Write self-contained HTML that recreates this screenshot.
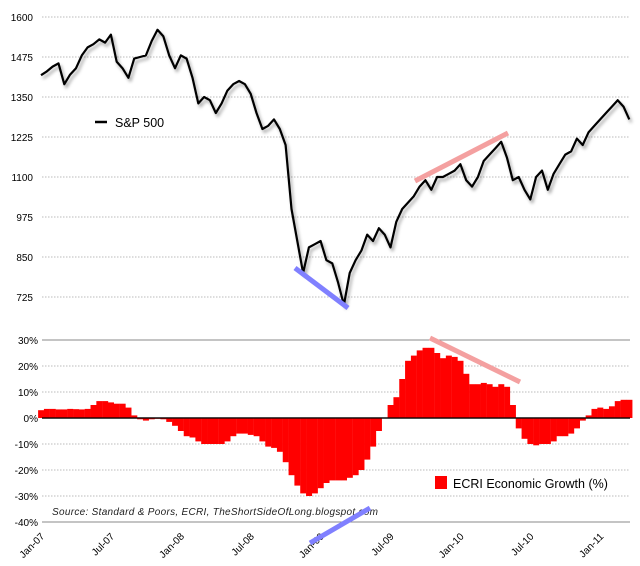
<!DOCTYPE html>
<html><head><meta charset="utf-8"><style>
body{margin:0;background:#fff;}
svg{display:block;font-family:"Liberation Sans",sans-serif;}
</style></head><body>
<svg id="c" width="640" height="566">
<defs><filter id="sh" x="-5%" y="-5%" width="110%" height="120%"><feDropShadow dx="2" dy="3" stdDeviation="1.5" flood-color="#000" flood-opacity="0.35"/></filter></defs>
<g id="topG"></g>
<g id="botG"></g>
<g id="axG"></g>
<g><line x1="95" y1="122" x2="107" y2="122" stroke="#000" stroke-width="2.5"/><text x="115" y="127" font-size="12.5">S&amp;P 500</text></g>
<g><rect x="435" y="476" width="12" height="13" fill="#f00"/><text x="453" y="488" font-size="12.5">ECRI Economic Growth (%)</text></g>
<text x="52" y="515" font-size="10" font-style="italic" fill="#222" letter-spacing="0.3">Source: Standard &amp; Poors, ECRI, TheShortSideOfLong.blogspot.com</text>
</svg>
<script>
const spTicks=[1600,1475,1350,1225,1100,975,850,725];
const ecTicks=[30,20,10,0,-10,-20,-30,-40];
const xLabels=["Jan-07","Jul-07","Jan-08","Jul-08","Jan-09","Jul-09","Jan-10","Jul-10","Jan-11"];
const spValues=[1418,1430,1445,1455,1390,1420,1440,1480,1505,1515,1530,1520,1545,1460,1440,1410,1470,1475,1480,1525,1560,1540,1480,1440,1480,1470,
1410,1330,1350,1340,1300,1330,1370,1390,1400,1390,1360,1300,1250,1260,1280,1250,1200,1000,900,800,880,890,
900,840,830,770,700,800,840,870,920,900,940,920,880,960,1000,1020,1040,1070,1090,1060,1100,1100,1110,1120,
1140,1090,1070,1100,1150,1170,1190,1210,1160,1090,1100,1060,1030,1100,1120,1060,1110,1140,1170,1180,1220,1200,1240,1260,
1280,1300,1320,1340,1320,1280];
const ecriValues=[3,3.5,3.5,3.3,3.3,3.5,3.4,3.3,3.5,5,6.5,6.5,6,5.5,5.5,4,1,-0.5,-1,-0.5,-0.3,-0.5,-1.5,-3,
-5,-7,-7.5,-9,-10,-10,-10,-10,-9,-7,-6,-6,-6.5,-7,-9,-11,-11.5,-13,-17,-22,-26,-29,-30,-29,
-27,-25,-24,-24,-24,-23,-22,-20,-16,-11,-5,0,5,8,15,22,24,26,27,27,25,23,24,23.5,
22,17,13,13,13.5,13,12,13,12,5,-4,-8,-10,-10.5,-10,-10,-9,-7,-7,-6,-4,-1,1,3.5,
4,3.5,4.5,6.5,7,7];
const NS="http://www.w3.org/2000/svg";
const X0=42,X1=630;
function xm(m){return 41+m*11.65;}
function xi(i){return xm(i/2);}
function ySp(v){return 17+(1600-v)/125*40;}
function yEc(v){return 418-v*2.6;}
function mk(p,t,a){const e=document.createElementNS(NS,t);for(const k in a)e.setAttribute(k,a[k]);p.appendChild(e);return e;}
const topG=document.getElementById('topG'),botG=document.getElementById('botG'),axG=document.getElementById('axG');
spTicks.forEach(v=>{
 const l=mk(topG,'line',{x1:X0,x2:X1,y1:ySp(v),y2:ySp(v),stroke:'#bbb','stroke-dasharray':'1.5,1.5'});
 
 
 const t=mk(topG,'text',{x:33,y:ySp(v)+4,'text-anchor':'end','font-size':'10'});t.textContent=v;
 
 
});
ecTicks.forEach(v=>{
 const solid=(v===30||v===-40),zero=v===0;
 const l=mk(botG,'line',{x1:X0,x2:X1,y1:yEc(v),y2:yEc(v),stroke:zero?'#000':(solid?'#888':'#bbb'),'stroke-width':zero?1.2:1});
 if(!solid&&!zero)l.setAttribute('stroke-dasharray','1.5,1.5');
 
 
 const t=mk(botG,'text',{x:38,y:yEc(v)+4,'text-anchor':'end','font-size':'10'});t.textContent=v+'%';
 
 
});
ecriValues.forEach((v,i)=>{
 const x=xi(i),y0=yEc(0),y=yEc(v);
 const r=mk(botG,'rect',{x:x-2.9,y:Math.min(y,y0),width:6,height:Math.abs(y-y0),fill:'#f00'});
 
 
});
const zl=mk(botG,'line',{x1:X0,x2:X1,y1:yEc(0),y2:yEc(0),stroke:'#000','stroke-width':1.2});


const pts=spValues.map((v,i)=>xi(i).toFixed(1)+','+ySp(v).toFixed(1)).join(' ');
const pl=mk(topG,'polyline',{points:pts,fill:'none',stroke:'#000','stroke-width':2.2,'stroke-linejoin':'round',filter:'url(#sh)'});


xLabels.forEach((s,k)=>{
 const x=xm(k*6);
 const t=mk(axG,'text',{x:x+4,y:537,'text-anchor':'end','font-size':'10',transform:`rotate(-45 ${x+4} 537)`});t.textContent=s;
 
 
});
const trend=[[295,268,348,308,'#8080ff'],[415,181,508,133,'#f4a0a0'],[430,338,520,382,'#f4a0a0'],[310,543,370,508,'#8080ff']];
trend.forEach(a=>{const l=mk(document.getElementById('c'),'line',{x1:a[0],y1:a[1],x2:a[2],y2:a[3],stroke:a[4],'stroke-width':5});
 
 });
</script>
</body></html>
